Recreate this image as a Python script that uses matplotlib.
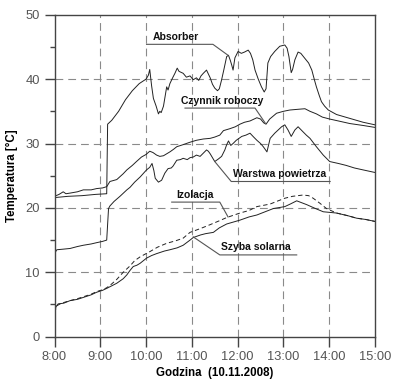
import matplotlib
matplotlib.use("Agg")
import matplotlib.pyplot as plt
from matplotlib.ticker import MultipleLocator

plt.rcParams['font.family'] = ['Liberation Sans', 'DejaVu Sans']

# godziny (dziesietnie) i temperatury
t_abs = [8.00, 8.30, 8.60, 8.90, 9.14, 9.16, 9.25, 9.40, 9.55, 9.70, 9.85, 10.00, 10.05, 10.08,
         10.12, 10.16, 10.22, 10.27, 10.30, 10.33, 10.38, 10.42, 10.45, 10.48, 10.52, 10.58,
         10.63, 10.68, 10.72, 10.81, 10.88, 10.96, 11.03, 11.10, 11.15, 11.20, 11.25, 11.32,
         11.36, 11.40, 11.45, 11.50, 11.56, 11.60, 11.65, 11.70, 11.76, 11.80, 11.84, 11.87,
         11.90, 11.94, 12.01, 12.08, 12.15, 12.23, 12.28, 12.33, 12.38, 12.45, 12.52, 12.58,
         12.62, 12.66, 12.72, 12.81, 12.92, 13.03, 13.08, 13.12, 13.17, 13.20, 13.25, 13.32,
         13.38, 13.47, 13.55, 13.62, 13.68, 13.72, 13.78, 13.83, 13.90, 13.98, 14.16, 14.45,
         14.74, 15.00]
absorber = [21.6, 21.8, 21.9, 22.1, 22.2, 33.0, 33.6, 35.0, 36.8, 38.2, 39.3, 40.0, 40.6, 41.5,
            39.0, 37.0, 35.8, 34.6, 35.0, 34.8, 35.8, 37.5, 38.8, 38.3, 39.3, 40.2,
            40.9, 41.7, 41.2, 40.9, 40.3, 40.5, 39.9, 40.2, 39.8, 40.5, 40.9, 41.4,
            40.8, 40.2, 39.2, 38.6, 38.2, 38.5, 39.9, 41.5, 43.5, 43.7, 42.9, 42.2,
            41.4, 43.3, 44.3, 44.0, 44.2, 44.5, 44.0, 43.0, 41.4, 40.0, 38.8, 38.0,
            38.5, 42.5, 43.5, 44.3, 45.1, 45.3, 44.8, 43.5, 41.0, 41.5, 43.0, 44.2,
            44.0, 43.2, 42.5, 41.4, 39.8, 38.8, 37.5, 36.5, 35.8, 35.2, 34.5, 33.9,
            33.3, 32.9]

t_czy = [8.00, 8.10, 8.19, 8.25, 8.34, 8.50, 8.63, 8.80, 8.92, 9.05, 9.14, 9.21, 9.36, 9.50,
         9.58, 9.70, 9.79, 9.90, 10.00, 10.08, 10.15, 10.23, 10.30, 10.38, 10.45, 10.52, 10.60,
         10.67, 10.80, 10.96, 11.10, 11.25, 11.40, 11.50, 11.61, 11.69, 11.83, 11.95, 12.05,
         12.15, 12.27, 12.42, 12.50, 12.57, 12.62, 12.70, 12.85, 13.00, 13.14, 13.30, 13.47,
         13.58, 13.72, 13.85, 14.01, 14.20, 14.45, 14.74, 15.00]
czynnik = [21.8, 22.1, 22.5, 22.2, 22.3, 22.5, 22.8, 22.8, 23.0, 23.1, 23.3, 24.1, 24.4, 25.3,
           25.9, 26.6, 27.2, 27.9, 28.3, 28.8, 28.6, 28.2, 28.0, 28.1, 28.4, 28.7, 29.1,
           29.5, 29.8, 30.2, 30.5, 30.7, 30.8, 31.0, 31.3, 32.0, 32.3, 32.6, 33.0,
           33.3, 33.5, 34.0, 33.8, 33.2, 33.0, 33.8, 34.7, 35.0, 35.2, 35.3, 35.4,
           35.0, 34.6, 34.1, 33.8, 33.5, 33.1, 32.8, 32.5]

t_war = [8.00, 8.05, 8.20, 8.34, 8.50, 8.63, 8.80, 8.92, 9.05, 9.14, 9.18, 9.21, 9.30, 9.43,
         9.58, 9.65, 9.75, 9.87, 10.01, 10.08, 10.13, 10.17, 10.20, 10.27, 10.34, 10.41, 10.48,
         10.55, 10.59, 10.67, 10.75, 10.81, 10.90, 10.96, 11.03, 11.10, 11.18, 11.25, 11.32,
         11.36, 11.40, 11.45, 11.50, 11.58, 11.65, 11.72, 11.76, 11.80, 11.85, 11.90, 11.97,
         12.09, 12.18, 12.27, 12.35, 12.42, 12.50, 12.56, 12.64, 12.71, 12.81, 12.90, 12.96,
         13.03, 13.10, 13.17, 13.25, 13.32, 13.43, 13.50, 13.58, 13.72, 13.87, 14.01, 14.20,
         14.37, 14.55, 14.74, 15.00]
warstwa = [12.9, 13.5, 13.6, 13.7, 14.0, 14.2, 14.4, 14.6, 14.8, 15.0, 19.9, 20.3, 21.0, 21.8,
           22.8, 23.2, 24.0, 24.8, 25.9, 26.3, 26.9, 25.8, 24.6, 24.0, 24.3, 25.4, 26.1,
           26.2, 26.5, 27.4, 27.5, 27.7, 27.5, 27.8, 27.9, 28.2, 28.0, 28.5, 29.0,
           28.8, 28.4, 27.8, 27.2, 27.6, 28.0, 29.0, 29.8, 30.4, 29.7, 30.0, 30.5,
           31.1, 31.3, 31.6, 31.0, 30.5, 30.0, 29.5, 28.7, 30.8, 31.6, 32.2, 32.6,
           32.9, 32.1, 31.1, 32.1, 32.6, 31.8, 31.3, 30.8, 29.5, 28.2, 27.2, 26.9,
           26.6, 26.2, 25.9, 25.5]

t_izo = [8.00, 8.05, 8.15, 8.34, 8.50, 8.63, 8.80, 8.92, 9.05, 9.14, 9.25, 9.36, 9.50, 9.65,
         9.75, 9.87, 10.00, 10.08, 10.25, 10.45, 10.65, 10.81, 10.96, 11.19, 11.40, 11.60,
         11.76, 12.05, 12.25, 12.42, 12.71, 12.85, 13.03, 13.20, 13.43, 13.55, 13.65, 13.80,
         13.94, 14.16, 14.40, 14.60, 14.80, 15.00]
izolacja = [3.7, 4.8, 5.2, 5.6, 5.9, 6.2, 6.6, 7.0, 7.3, 7.6, 8.2, 8.9, 10.0, 11.0,
            11.8, 12.4, 12.9, 13.2, 13.9, 14.5, 14.9, 15.3, 16.2, 16.8, 17.4, 18.0,
            18.5, 19.2, 19.6, 20.2, 20.6, 21.0, 21.5, 21.8, 22.0, 21.9, 21.5, 20.7,
            19.9, 19.2, 18.8, 18.4, 18.2, 17.9]

t_szy = [8.00, 8.03, 8.08, 8.20, 8.34, 8.50, 8.63, 8.80, 8.92, 9.05, 9.14, 9.25, 9.36, 9.50,
         9.58, 9.65, 9.72, 9.80, 9.87, 10.01, 10.12, 10.23, 10.40, 10.52, 10.68, 10.81, 10.96,
         11.03, 11.19, 11.30, 11.47, 11.60, 11.76, 12.05, 12.25, 12.42, 12.60, 12.78, 13.03,
         13.15, 13.29, 13.40, 13.51, 13.70, 13.87, 14.16, 14.40, 14.60, 14.80, 15.00]
szyba = [3.5, 4.6, 5.1, 5.2, 5.6, 5.8, 6.1, 6.5, 6.9, 7.2, 7.5, 7.9, 8.3, 9.0,
         9.6, 10.3, 10.9, 11.1, 11.4, 12.2, 12.6, 12.9, 13.3, 13.5, 13.8, 14.2, 15.0,
         15.4, 15.8, 16.0, 16.2, 16.9, 17.5, 18.1, 18.6, 18.9, 19.4, 19.9, 20.2,
         20.6, 21.1, 20.8, 20.5, 19.9, 19.4, 19.2, 18.8, 18.4, 18.2, 17.9]

hour_ticks = [8, 9, 10, 11, 12, 13, 14, 15]
hour_labels = ["8:00", "9:00", "10:00", "11:00", "12:00", "13:00", "14:00", "15:00"]

fig = plt.figure(figsize=(3.93, 3.83), dpi=100)
ax = fig.add_axes([0.1387, 0.1209, 0.8155, 0.8407])

lc = '#222222'
ax.plot(t_abs, absorber, color=lc, lw=0.7)
ax.plot(t_czy, czynnik, color=lc, lw=0.7)
ax.plot(t_war, warstwa, color=lc, lw=0.7)
ax.plot(t_izo, izolacja, color=lc, lw=0.7, linestyle=(0, (4.5, 3)))
ax.plot(t_szy, szyba, color=lc, lw=0.7)

ax.set_xlim(8, 15)
ax.set_ylim(0, 50)
ax.set_xticks(hour_ticks)
ax.set_xticklabels(hour_labels)
ax.yaxis.set_major_locator(MultipleLocator(10))
ax.yaxis.set_minor_locator(MultipleLocator(5))

for h in hour_ticks[1:-1]:
    ax.axvline(h, color='#8a8a8a', lw=0.8, linestyle=(0, (7, 4.5)), zorder=0)
for v in [10, 20, 30, 40]:
    ax.axhline(v, color='#8a8a8a', lw=0.8, linestyle=(0, (7, 4.5)), zorder=0)

for s in ax.spines.values():
    s.set_color('#444444')
    s.set_linewidth(1.0)

ax.tick_params(axis='both', which='major', direction='out', length=7.5, width=1.0,
               color='#444444', labelsize=9.3, labelcolor='#555555', pad=3)
ax.tick_params(axis='y', which='minor', direction='out', length=3.5, width=1.0, color='#444444')

ax.set_ylabel("Temperatura [°C]", fontsize=8.3, fontweight='bold', labelpad=5)
ax.set_xlabel("Godzina  (10.11.2008)", fontsize=8.3, fontweight='bold', labelpad=3)

# etykiety z odnosnikami (tekst nad podkresleniem)
lab = dict(fontsize=7.5, fontweight='bold', color='#111111', va='baseline', ha='left')
lk = dict(color='#555555', lw=0.8)

ax.text(10.15, 46.0, "Absorber", **lab)
ax.plot([10.01, 11.46, 11.79], [45.4, 45.4, 43.7], **lk)

ax.text(10.76, 36.2, "Czynnik roboczy", **lab)
ax.plot([10.85, 12.38, 12.60], [35.5, 35.5, 33.2], **lk)

ax.text(11.90, 24.8, "Warstwa powietrza", **lab)
ax.plot([11.50, 11.86, 14.02], [27.2, 24.1, 24.1], **lk)

ax.text(10.65, 21.5, "Izolacja", **lab)
ax.plot([10.56, 11.61, 11.79], [20.9, 20.9, 18.6], **lk)

ax.text(11.64, 13.4, "Szyba solarna", **lab)
ax.plot([11.03, 11.61, 13.29], [15.5, 12.7, 12.7], **lk)

fig.savefig("out.png", dpi=100)
